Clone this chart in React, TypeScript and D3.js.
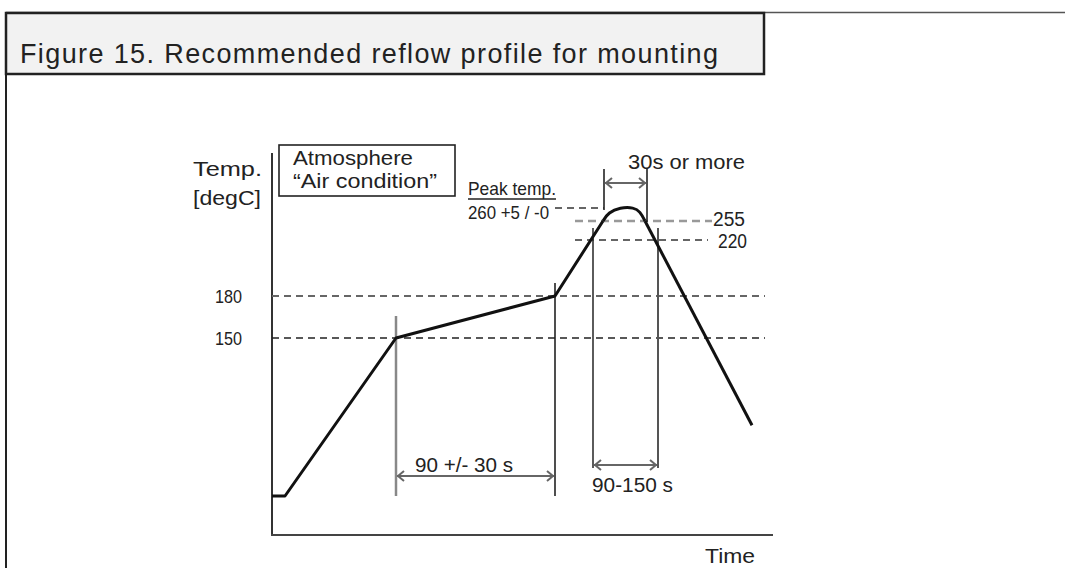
import * as d3 from 'd3';

// --- data (schematic reflow profile) ---
const title = 'Figure 15. Recommended reflow profile for mounting';
// time in arbitrary units (schematic), temperature in degC
const rampTime = [0, 2.6, 24.8, 56.6, 66.2];
const rampTemp = [25, 25, 150, 180, 255];
const peakTime = [66.2, 67.3, 69.6, 72.4, 73.6, 74.6];
const peakTemp = [255, 258.3, 260.2, 260.2, 258.7, 255];
const coolTime = [74.6, 96];
const coolTemp = [255, 81];
const tempTicks = [150, 180];
// breakpoints of the (non-linear, schematic) temperature axis
const tempLevels = [25, 150, 180, 220, 255, 260];
const peakLabel = ['Peak temp.', '260 +5 / -0'];
const spanLabels = ['90 +/- 30 s', '90-150 s', '30s or more'];
const spanFrom = [24.8, 64.2, 66.4];
const spanTo = [56.6, 77.2, 75.0];

const FONT = '"Liberation Sans", Arial, sans-serif';
const INK = '#222';

const x = d3.scaleLinear().domain([0, 100]).range([272, 772]);
const y = d3.scaleLinear().domain(tempLevels).range([496, 338, 296, 240, 221, 208]);

const pts = (ts: number[], vs: number[]) => ts.map((t, i) => [t, vs[i]] as [number, number]);
const lin = d3.line<[number, number]>().x((d) => x(d[0])).y((d) => y(d[1]));
const basis = d3
  .line<[number, number]>()
  .x((d) => x(d[0]))
  .y((d) => y(d[1]))
  .curve(d3.curveBasis);

const Arrow = ({ x1, x2, yy }: { x1: number; x2: number; yy: number }) => (
  <g stroke="#666" strokeWidth={2} fill="none">
    <line x1={x1 + 1} x2={x2 - 1} y1={yy} y2={yy} />
    <path d={`M${x1 + 8},${yy - 5} L${x1 + 2},${yy} L${x1 + 8},${yy + 5}`} />
    <path d={`M${x2 - 8},${yy - 5} L${x2 - 2},${yy} L${x2 - 8},${yy + 5}`} />
  </g>
);

const Label = (p: { x: number; y: number; w: number; s?: number; children: string }) => (
  <text
    x={p.x}
    y={p.y}
    fontSize={p.s ?? 19}
    fill={INK}
    textLength={p.w}
    lengthAdjust="spacingAndGlyphs"
  >
    {p.children}
  </text>
);

export default function App() {
  const yTop = y(260);
  return (
    <svg
      width={1065}
      height={568}
      style={{ position: 'absolute', left: 0, top: 0, background: '#fff' }}
      fontFamily={FONT}
    >
      {/* frame + title */}
      <line x1={6} x2={1065} y1={12.5} y2={12.5} stroke="#555" strokeWidth={1.5} />
      <line x1={6} x2={6} y1={12} y2={568} stroke={INK} strokeWidth={2} />
      <rect x={6} y={13} width={758} height={61} fill="#f2f2f2" stroke={INK} strokeWidth={2.5} />
      <text x={20} y={63} fontSize={27} fill={INK} textLength={698} lengthAdjust="spacing">
        {title}
      </text>

      {/* axes */}
      <line x1={272} x2={272} y1={153} y2={536} stroke="#333" strokeWidth={2} />
      <line x1={271} x2={773} y1={535} y2={535} stroke="#444" strokeWidth={2} />
      <Label x={193} y={176} w={69} s={20}>Temp.</Label>
      <Label x={193} y={205} w={68} s={20}>[degC]</Label>
      <Label x={705} y={563} w={50} s={20}>Time</Label>

      {tempTicks.map((t, i) => (
        <g key={t}>
          <line
            x1={272}
            x2={765}
            y1={y(t)}
            y2={y(t)}
            stroke={i === 0 ? '#222' : '#666'}
            strokeWidth={i === 0 ? 1.4 : 2}
            strokeDasharray="7 5"
          />
          <Label x={215} y={y(t) + 7} w={27} s={19}>{String(t)}</Label>
        </g>
      ))}

      {/* peak level lines */}
      <line x1={x(56.6)} x2={x(66.4)} y1={y(260)} y2={y(260)} stroke="#333" strokeWidth={1.3} strokeDasharray="7 5" />
      <line x1={575} x2={712} y1={y(255)} y2={y(255)} stroke="#999" strokeWidth={2.5} strokeDasharray="8 5" />
      <line x1={575} x2={708} y1={y(220)} y2={y(220)} stroke="#333" strokeWidth={1.3} strokeDasharray="7 5" />
      <Label x={713} y={226} w={32} s={20}>255</Label>
      <Label x={718} y={248} w={29} s={20}>220</Label>

      {/* atmosphere box */}
      <rect x={279} y={145} width={176} height={51} fill="#fff" stroke={INK} strokeWidth={1.6} />
      <Label x={293} y={165} w={120} s={20}>Atmosphere</Label>
      <Label x={293} y={188} w={144} s={20}>{'\u201CAir condition\u201D'}</Label>

      {/* peak temp label */}
      <Label x={468} y={195} w={88} s={19}>{peakLabel[0]}</Label>
      <line x1={468} x2={556} y1={199} y2={199} stroke={INK} strokeWidth={1.3} />
      <Label x={468} y={219} w={81} s={19}>{peakLabel[1]}</Label>

      {/* markers */}
      <line x1={x(spanFrom[0])} x2={x(spanFrom[0])} y1={316} y2={496} stroke="#888" strokeWidth={2.5} />
      <line x1={x(spanTo[0])} x2={x(spanTo[0])} y1={283} y2={496} stroke="#222" strokeWidth={1.6} />
      <line x1={x(spanFrom[1])} x2={x(spanFrom[1])} y1={228} y2={468} stroke="#333" strokeWidth={1.6} />
      <line x1={x(spanTo[1])} x2={x(spanTo[1])} y1={228} y2={468} stroke="#555" strokeWidth={2} />
      <line x1={x(spanFrom[2])} x2={x(spanFrom[2])} y1={169} y2={yTop + 2} stroke="#222" strokeWidth={1.6} />
      <line x1={x(spanTo[2])} x2={x(spanTo[2])} y1={169} y2={222} stroke="#222" strokeWidth={1.6} />

      <Arrow x1={x(spanFrom[0])} x2={x(spanTo[0])} yy={476} />
      <Arrow x1={x(spanFrom[1])} x2={x(spanTo[1])} yy={465} />
      <Arrow x1={x(spanFrom[2])} x2={x(spanTo[2])} yy={183} />
      <Label x={415} y={472} w={98} s={20}>{spanLabels[0]}</Label>
      <Label x={592} y={492} w={81} s={20}>{spanLabels[1]}</Label>
      <Label x={628} y={169} w={117} s={20}>{spanLabels[2]}</Label>

      {/* profile */}
      <g fill="none" stroke="#111" strokeWidth={3} strokeLinejoin="round">
        <path d={lin(pts(rampTime, rampTemp)) ?? ''} />
        <path d={basis(pts(peakTime, peakTemp)) ?? ''} />
        <path d={lin(pts(coolTime, coolTemp)) ?? ''} />
      </g>
    </svg>
  );
}
